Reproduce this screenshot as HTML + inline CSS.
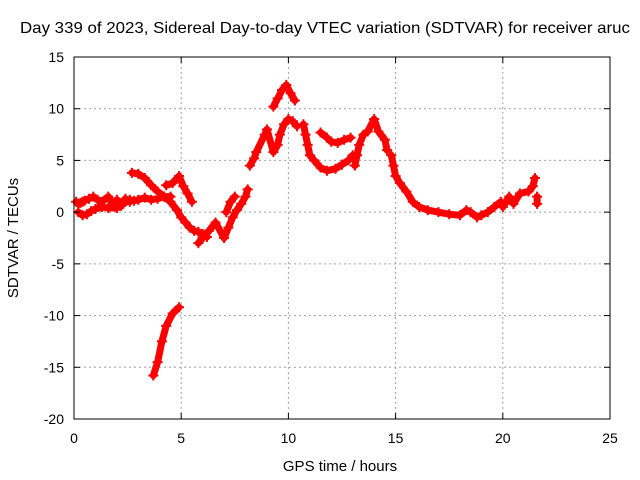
<!DOCTYPE html>
<html><head><meta charset="utf-8"><style>
body{margin:0;background:#fff}
svg{display:block;font-family:"Liberation Sans",sans-serif}
</style></head><body>
<svg id="chart" width="640" height="480">
<rect width="640" height="480" fill="#fff"/>
<text x="20" y="33" font-size="16" textLength="610" lengthAdjust="spacingAndGlyphs" fill="#000">Day 339 of 2023, Sidereal Day-to-day VTEC variation (SDTVAR) for receiver aruc</text>
<g id="grid"></g><g id="marks"></g><g id="axes"></g>
<text x="340" y="471" font-size="15" text-anchor="middle">GPS time / hours</text>
<text transform="translate(18,238) rotate(-90)" font-size="15" text-anchor="middle">SDTVAR / TECUs</text>
</svg>
<script>
const xTicks=[0,5,10,15,20,25];
const yTicks=[15,10,5,0,-5,-10,-15,-20];
const seg1H=[0.1,0.2,0.3,0.4,0.5,0.7,0.9,1.1,1.3,1.6,1.8,2.0,2.2,2.4,2.6];
const seg1V=[1.0,0.8,0.9,1.0,1.1,1.3,1.5,1.2,1.0,1.5,0.8,1.2,0.6,1.3,1.0];
const seg2H=[0.2,0.4,0.6,0.8,1.0,1.3,1.6,2.0,2.3,2.6,2.8,3.0,3.3,3.6,3.9,4.2,4.5];
const seg2V=[0.0,-0.3,-0.2,0.1,0.3,0.5,0.4,0.4,0.8,1.2,1.1,1.2,1.4,1.2,1.3,1.5,1.5];
const seg3H=[2.7,3.0,3.3,3.6,3.9,4.2,4.5,4.8,5.0,5.2,5.4,5.6,5.8,6.0,6.2];
const seg3V=[3.8,3.7,3.3,2.6,2.0,1.5,1.0,0.2,-0.5,-1.0,-1.5,-1.8,-1.9,-2.1,-2.4];
const seg4H=[4.3,4.6,4.9,5.1,5.3,5.5];
const seg4V=[2.6,2.8,3.5,2.5,1.8,1.0];
const seg5H=[5.8,6.0,6.3,6.6,7.0,7.2,7.4,7.6,7.8,8.0,8.1];
const seg5V=[-3.0,-2.5,-1.8,-1.0,-2.5,-1.5,-0.5,0.2,0.8,1.5,2.2];
const seg6H=[7.1,7.3,7.5];
const seg6V=[0.0,1.0,1.5];
const seg7H=[8.2,8.4,8.5,8.9,9.0,9.3,9.5,9.6,9.8,10.0,10.2,10.4];
const seg7V=[4.5,5.2,5.8,7.5,8.0,5.8,6.5,7.5,8.5,9.0,8.8,8.3];
const seg8H=[9.3,9.5,9.7,9.9,10.1,10.3];
const seg8V=[10.2,11.0,11.8,12.3,11.5,10.8];
const seg9H=[10.7,10.8,10.9,11.0,11.2,11.5,11.8,12.2,12.5,12.8,13.0];
const seg9V=[8.5,7.5,6.5,5.5,5.0,4.3,4.0,4.2,4.6,5.0,5.5];
const seg10H=[11.5,11.8,12.0,12.3,12.6,12.9];
const seg10V=[7.7,7.2,6.8,6.7,7.0,7.2];
const seg11H=[13.1,13.2,13.3,13.5,13.7,14.0,14.2,14.5,14.6];
const seg11V=[4.5,5.5,6.5,7.5,7.8,9.0,7.8,7.0,6.0];
const seg12H=[14.8,14.9,15.0,15.2,15.5,15.8,16.1,16.5,17.0,17.5,18.0,18.3,18.5,18.8,19.0,19.3,19.6,19.9,20.0,20.3,20.5,20.8,21.2,21.4,21.5];
const seg12V=[5.5,4.5,3.5,2.8,2.0,1.0,0.5,0.2,0.0,-0.2,-0.3,0.2,0.0,-0.5,-0.3,0.0,0.5,1.0,0.5,1.5,0.8,1.8,2.0,2.5,3.3];
const seg13H=[21.6,21.6];
const seg13V=[1.5,0.8];
const seg14H=[3.7,3.9,4.1,4.3,4.6,4.9];
const seg14V=[-15.8,-14.5,-12.5,-11.0,-9.8,-9.2];
const segsH=[seg1H,seg2H,seg3H,seg4H,seg5H,seg6H,seg7H,seg8H,seg9H,seg10H,seg11H,seg12H,seg13H,seg14H];
const segsV=[seg1V,seg2V,seg3V,seg4V,seg5V,seg6V,seg7V,seg8V,seg9V,seg10V,seg11V,seg12V,seg13V,seg14V];
const X0=74,X1=610,Y0=57,Y1=419;
const sx=h=>X0+(h-0)/25*(X1-X0);
const sy=v=>Y0+(15-v)/35*(Y1-Y0);
const NS="http://www.w3.org/2000/svg";
function mk(t,a,p){const e=document.createElementNS(NS,t);for(const k in a)e.setAttribute(k,a[k]);p.appendChild(e);return e;}
const grid=document.getElementById('grid'),axes=document.getElementById('axes'),marks=document.getElementById('marks');
xTicks.forEach(t=>{
 if(t>0&&t<25){const l=mk('line',{x1:sx(t),x2:sx(t),y1:Y0,y2:Y1,stroke:'#a0a0a0','stroke-dasharray':'2,3'},grid);
 
 }
 mk('line',{x1:sx(t),x2:sx(t),y1:Y1,y2:Y1-6,stroke:'#000'},axes);
 mk('line',{x1:sx(t),x2:sx(t),y1:Y0,y2:Y0+6,stroke:'#000'},axes);
 const tx=mk('text',{x:sx(t),y:Y1+24,'font-size':14,'text-anchor':'middle'},axes);tx.textContent=t;
 
 
});
yTicks.forEach(t=>{
 if(t<15&&t>-20){const l=mk('line',{x1:X0,x2:X1,y1:sy(t),y2:sy(t),stroke:'#a0a0a0','stroke-dasharray':'2,3'},grid);
 
 }
 mk('line',{x1:X0,x2:X0+6,y1:sy(t),y2:sy(t),stroke:'#000'},axes);
 mk('line',{x1:X1,x2:X1-6,y1:sy(t),y2:sy(t),stroke:'#000'},axes);
 const tx=mk('text',{x:X0-10,y:sy(t)+5,'font-size':14,'text-anchor':'end'},axes);tx.textContent=t;
 
 
});
const fr=mk('rect',{x:X0,y:Y0,width:X1-X0,height:Y1-Y0,fill:'none',stroke:'#000'},axes);


segsH.forEach((H,i)=>{
 const V=segsV[i];
 const pts=H.map((h,j)=>sx(h)+','+sy(V[j])).join(' ');
 const pl=mk('polyline',{points:pts,fill:'none',stroke:'#f00','stroke-width':7,'stroke-linejoin':'round','stroke-linecap':'round'},marks);
 
 
 H.forEach((h,j)=>{
  const x=sx(h),y=sy(V[j]);
  const p=mk('path',{d:`M${x-5},${y}H${x+5}M${x},${y-5}V${y+5}`,stroke:'#f00','stroke-width':2},marks);
  
  
 });
});
</script>
</body></html>
